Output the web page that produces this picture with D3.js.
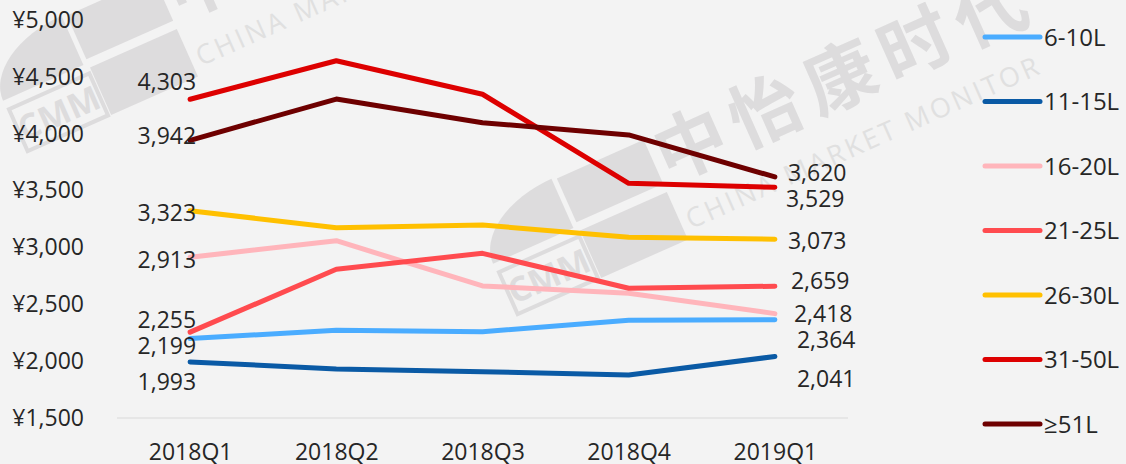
<!DOCTYPE html>
<html>
<head>
<meta charset="utf-8">
<script src="https://cdn.jsdelivr.net/npm/d3@7/dist/d3.min.js"></script>
<style>
  html, body { margin: 0; padding: 0; background: #f3f3f3; }
  svg { display: block; font-family: "Open Sans", "Noto Sans", sans-serif; }
</style>
</head>
<body>
<div id="chart"></div>
<script>
// quarters on the x axis
var quarters = ["2018Q1", "2018Q2", "2018Q3", "2018Q4", "2019Q1"];

// capacity classes (legend order)
var classes = ["6-10L", "11-15L", "16-20L", "21-25L", "26-30L", "31-50L", "\u226551L"];

// average price per quarter, one array per class
var s6to10   = [2199, 2271, 2259, 2360, 2364];
var s11to15  = [1993, 1931, 1907, 1878, 2041];
var s16to20  = [2913, 3059, 2661, 2597, 2418];
var s21to25  = [2255, 2808, 2948, 2641, 2659];
var s26to30  = [3323, 3173, 3197, 3089, 3073];
var s31to50  = [4303, 4642, 4347, 3564, 3529];
var s51plus  = [3942, 4305, 4097, 3989, 3620];

var yTicks = [1500, 2000, 2500, 3000, 3500, 4000, 4500, 5000];

var seriesValues = [s6to10, s11to15, s16to20, s21to25, s26to30, s31to50, s51plus];
var colors = ["#4aacff", "#0a5aa5", "#ffb5bb", "#ff4b4f", "#ffc000", "#dd0000", "#6e0000"];

// hand-placed label nudges so the end labels don't collide (px)
var firstLabelDy = [7, 20, 2, -12, 2, -18, -5];
var lastLabelDy  = [20, 22, 0, -5, 2, 11, -4];
var lastLabelDx  = [22, 22, 19, 16, 13, 11, 13];

var W = 1126, H = 464;
var textColor = "#262626";

var svg = d3.select("#chart").append("svg")
    .attr("width", W)
    .attr("height", H);

svg.append("rect")
    .attr("width", W).attr("height", H)
    .attr("fill", "#f3f3f3");

// watermark (logo + company name), drawn behind everything
function watermark(x, y) {
    var g = svg.append("g")
        .attr("transform", "translate(" + x + "," + y + ") rotate(-24)")
        .attr("fill", "#dddcdd");
    g.append("path").attr("d", "M-5,-54 L-5,0 L-93,0 A88,54 0 0,1 -5,-54 Z");
    g.append("rect").attr("x", 0).attr("y", -52).attr("width", 95).attr("height", 48);
    g.append("rect").attr("x", 0).attr("y", 5).attr("width", 95).attr("height", 52);
    g.append("rect").attr("x", -91).attr("y", 10).attr("width", 88).attr("height", 46)
        .attr("fill", "none").attr("stroke", "#dddcdd").attr("stroke-width", 4);
    g.append("text").attr("x", -47).attr("y", 46)
        .attr("text-anchor", "middle")
        .style("font-size", "34px").style("font-weight", "bold")
        .text("CMM");
    g.append("text").attr("x", 100).attr("y", -3)
        .style("font-family", "'Noto Sans CJK SC', sans-serif")
        .style("font-size", "72px").style("font-weight", "bold")
        .style("letter-spacing", "10px")
        .text("中怡康时代");
    g.append("text").attr("x", 102).attr("y", 49)
        .attr("fill", "#e0e0e0")
        .style("font-size", "27px")
        .style("letter-spacing", "3px")
        .text("CHINA MARKET MONITOR");
}
watermark(88, 63);
watermark(578, 226);

var x = d3.scalePoint()
    .domain(quarters)
    .range([117, 848])
    .padding(0.5);

var y = d3.scaleLinear()
    .domain([1500, 5000])
    .range([418, 20]);

// baseline gridline only
svg.append("line")
    .attr("x1", 117).attr("x2", 848)
    .attr("y1", y(1500)).attr("y2", y(1500))
    .attr("stroke", "#d9d9d9").attr("stroke-width", 1);

// y tick labels
var yAxis = svg.append("g")
    .attr("transform", "translate(84,0)")
    .call(d3.axisLeft(y).tickValues(yTicks).tickSize(0).tickPadding(0)
        .tickFormat(function(d) { return "\u00a5" + d3.format(",")(d); }));
yAxis.select(".domain").remove();
yAxis.selectAll("text")
    .attr("fill", textColor)
    .style("font-size", "23px")
    .style("font-family", "'Open Sans', sans-serif");

// x tick labels
var xAxis = svg.append("g")
    .attr("transform", "translate(0,418)")
    .call(d3.axisBottom(x).tickSize(0).tickPadding(0));
xAxis.select(".domain").remove();
xAxis.selectAll("text")
    .attr("y", 42).attr("dy", 0)
    .attr("fill", textColor)
    .style("font-size", "23px")
    .style("font-family", "'Open Sans', sans-serif");

var line = d3.line()
    .x(function(d, i) { return x(quarters[i]); })
    .y(function(d) { return y(d); });

var fmt = d3.format(",");

seriesValues.forEach(function(vals, k) {
    svg.append("path")
        .datum(vals)
        .attr("d", line)
        .attr("fill", "none")
        .attr("stroke", colors[k])
        .attr("stroke-width", 5)
        .attr("stroke-linejoin", "round")
        .attr("stroke-linecap", "round");
});

// end labels (first and last quarter)
seriesValues.forEach(function(vals, k) {
    var n = vals.length - 1;
    svg.append("text")
        .attr("x", x(quarters[0]) + 6)
        .attr("y", y(vals[0]) + firstLabelDy[k])
        .attr("dy", "0.36em")
        .attr("text-anchor", "end")
        .attr("fill", textColor)
        .style("font-size", "23px")
        .text(fmt(vals[0]));
    svg.append("text")
        .attr("x", x(quarters[n]) + lastLabelDx[k])
        .attr("y", y(vals[n]) + lastLabelDy[k])
        .attr("dy", "0.36em")
        .attr("fill", textColor)
        .style("font-size", "23px")
        .text(fmt(vals[n]));
});

// legend
var legend = svg.selectAll(".legend")
    .data(classes)
    .enter().append("g")
    .attr("class", "legend")
    .attr("transform", function(d, i) { return "translate(985," + (37 + i * 64.5) + ")"; });

legend.append("line")
    .attr("x1", 0).attr("x2", 55)
    .attr("stroke", function(d, i) { return colors[i]; })
    .attr("stroke-width", 5)
    .attr("stroke-linecap", "round");

legend.append("text")
    .attr("x", 59)
    .attr("dy", "0.36em")
    .attr("fill", textColor)
    .style("font-size", "24px")
    .text(function(d) { return d; });
</script>
</body>
</html>
